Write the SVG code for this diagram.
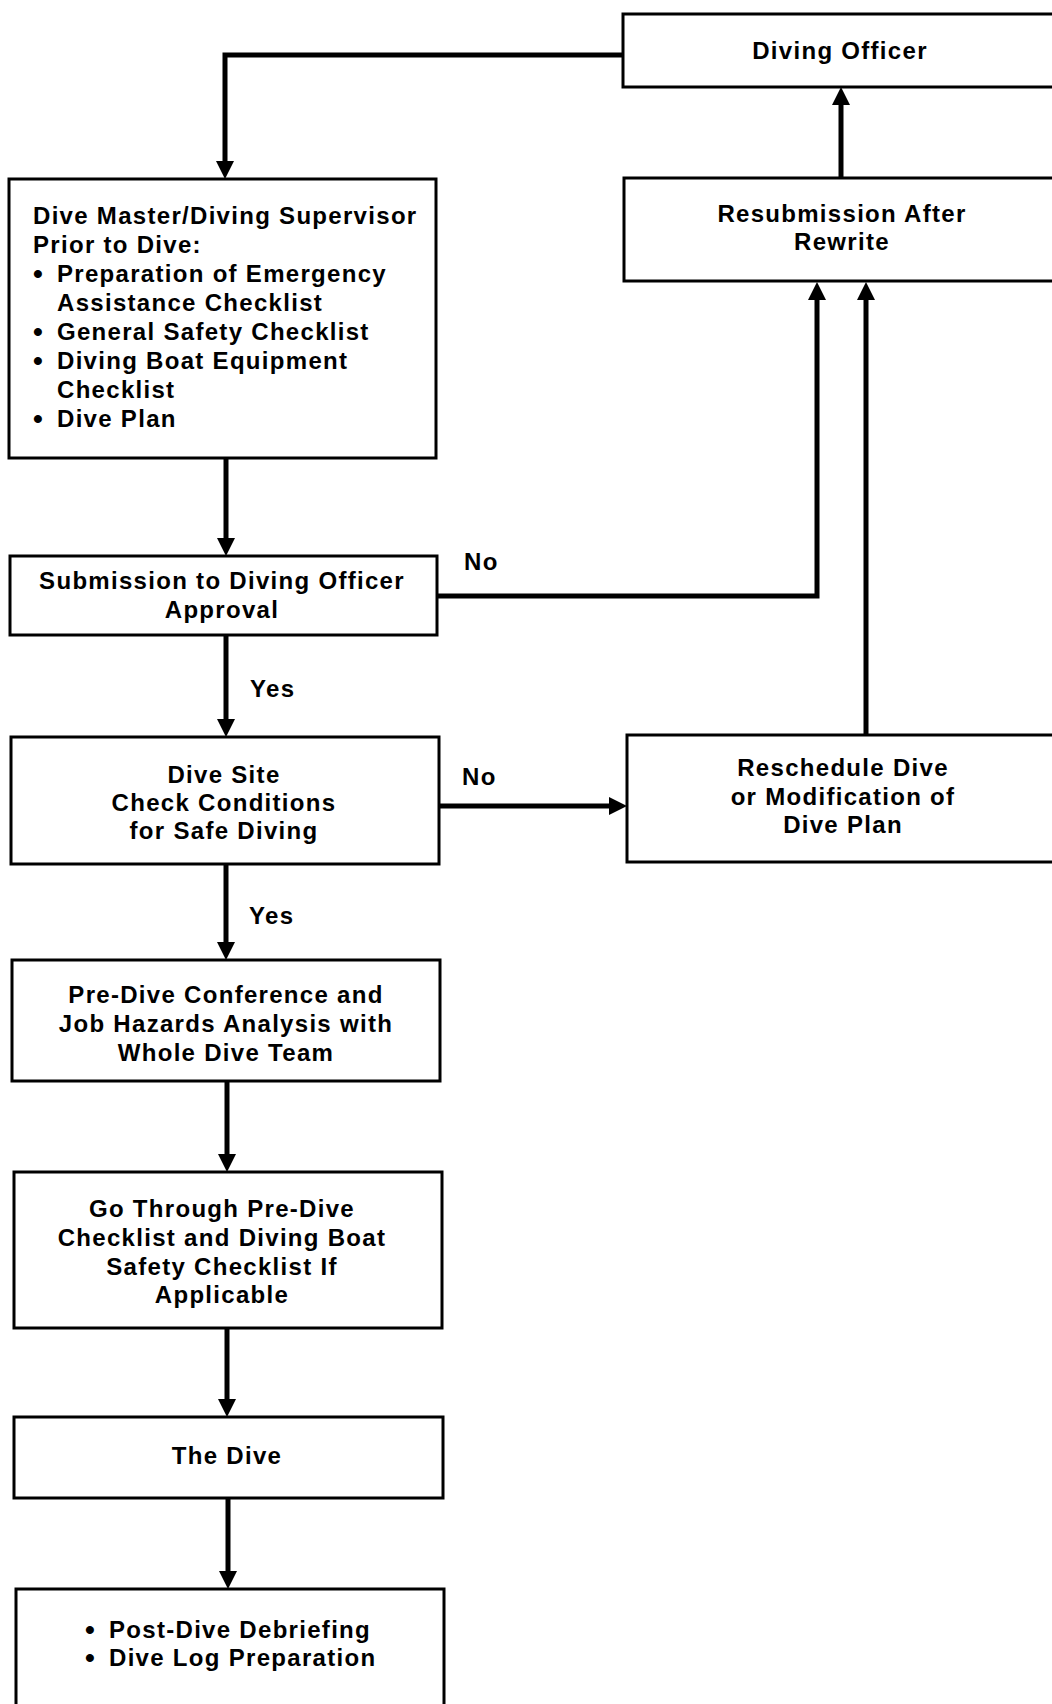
<svg xmlns="http://www.w3.org/2000/svg" width="1052" height="1704" viewBox="0 0 1052 1704">
<defs>
<style>
.box{fill:#fff;stroke:#000;stroke-width:3}
.t{font-family:"Liberation Sans",Arial,sans-serif;font-size:24px;font-weight:bold;letter-spacing:1.3px;fill:#000}
.c{text-anchor:middle}
.b{font-size:28px}
.ln{fill:none;stroke:#000;stroke-width:5;stroke-linejoin:miter;stroke-linecap:square}
</style>
<marker id="ah" markerUnits="userSpaceOnUse" markerWidth="18" markerHeight="18" refX="6" refY="9" orient="auto" viewBox="0 0 18 18">
<path d="M0,0 L18,9 L0,18 z" fill="#000"/>
</marker>
</defs>
<rect width="1052" height="1704" fill="#fff"/>
<g id="connectors">
<path class="ln" d="M623,55 L225,55 L225,167" marker-end="url(#ah)"/>
<path class="ln" d="M226,458 L226,544" marker-end="url(#ah)"/>
<path class="ln" d="M437,596 L817,596 L817,294" marker-end="url(#ah)"/>
<path class="ln" d="M226,635 L226,725" marker-end="url(#ah)"/>
<path class="ln" d="M439,806 L615,806" marker-end="url(#ah)"/>
<path class="ln" d="M866,735 L866,294" marker-end="url(#ah)"/>
<path class="ln" d="M841,178 L841,99" marker-end="url(#ah)"/>
<path class="ln" d="M226,864 L226,948" marker-end="url(#ah)"/>
<path class="ln" d="M227,1081 L227,1160" marker-end="url(#ah)"/>
<path class="ln" d="M227,1328 L227,1405" marker-end="url(#ah)"/>
<path class="ln" d="M228,1498 L228,1577" marker-end="url(#ah)"/>
<text class="t" x="464" y="570">No</text>
<text class="t" x="250" y="697">Yes</text>
<text class="t" x="462" y="785">No</text>
<text class="t" x="249" y="924">Yes</text>
</g>
<g id="diving-officer">
<rect class="box" x="623" y="14" width="440" height="73"/>
<text class="t c" x="840" y="59">Diving Officer</text>
</g>
<g id="resubmission">
<rect class="box" x="624" y="178" width="440" height="103"/>
<text class="t c" x="842" y="222">Resubmission After</text>
<text class="t c" x="842" y="250">Rewrite</text>
</g>
<g id="dive-master">
<rect class="box" x="9" y="179" width="427" height="279"/>
<text class="t">
<tspan x="33" y="224">Dive Master/Diving Supervisor</tspan>
<tspan x="33" y="253">Prior to Dive:</tspan>
<tspan class="b" x="33" y="283">•</tspan><tspan x="57" y="282">Preparation of Emergency</tspan>
<tspan x="57" y="311">Assistance Checklist</tspan>
<tspan class="b" x="33" y="341">•</tspan><tspan x="57" y="340">General Safety Checklist</tspan>
<tspan class="b" x="33" y="370">•</tspan><tspan x="57" y="369">Diving Boat Equipment</tspan>
<tspan x="57" y="398">Checklist</tspan>
<tspan class="b" x="33" y="428">•</tspan><tspan x="57" y="427">Dive Plan</tspan>
</text>
</g>
<g id="submission">
<rect class="box" x="10" y="556" width="427" height="79"/>
<text class="t c" x="222" y="589">Submission to Diving Officer</text>
<text class="t c" x="222" y="618">Approval</text>
</g>
<g id="dive-site">
<rect class="box" x="11" y="737" width="428" height="127"/>
<text class="t c" x="224" y="783">Dive Site</text>
<text class="t c" x="224" y="811">Check Conditions</text>
<text class="t c" x="224" y="839">for Safe Diving</text>
</g>
<g id="reschedule">
<rect class="box" x="627" y="735" width="440" height="127"/>
<text class="t c" x="843" y="776">Reschedule Dive</text>
<text class="t c" x="843" y="805">or Modification of</text>
<text class="t c" x="843" y="833">Dive Plan</text>
</g>
<g id="pre-dive-conference">
<rect class="box" x="12" y="960" width="428" height="121"/>
<text class="t c" x="226" y="1003">Pre-Dive Conference and</text>
<text class="t c" x="226" y="1032">Job Hazards Analysis with</text>
<text class="t c" x="226" y="1061">Whole Dive Team</text>
</g>
<g id="pre-dive-checklist">
<rect class="box" x="14" y="1172" width="428" height="156"/>
<text class="t c" x="222" y="1217">Go Through Pre-Dive</text>
<text class="t c" x="222" y="1246">Checklist and Diving Boat</text>
<text class="t c" x="222" y="1275">Safety Checklist If</text>
<text class="t c" x="222" y="1303">Applicable</text>
</g>
<g id="the-dive">
<rect class="box" x="14" y="1417" width="429" height="81"/>
<text class="t c" x="227" y="1464">The Dive</text>
</g>
<g id="post-dive">
<rect class="box" x="16" y="1589" width="428" height="140"/>
<text class="t">
<tspan class="b" x="85" y="1639">•</tspan><tspan x="109" y="1638">Post-Dive Debriefing</tspan>
<tspan class="b" x="85" y="1667">•</tspan><tspan x="109" y="1666">Dive Log Preparation</tspan>
</text>
</g>
</svg>
